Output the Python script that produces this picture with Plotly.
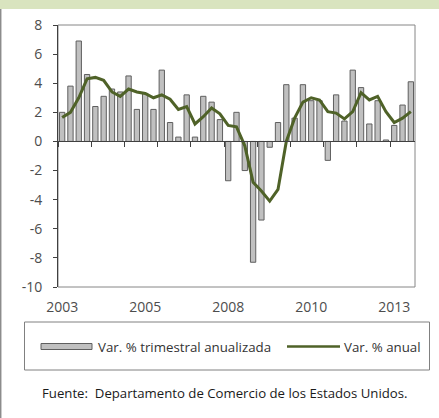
import plotly.graph_objects as go

trimestres = [
    "2003-T1", "2003-T2", "2003-T3", "2003-T4",
    "2004-T1", "2004-T2", "2004-T3", "2004-T4",
    "2005-T1", "2005-T2", "2005-T3", "2005-T4",
    "2006-T1", "2006-T2", "2006-T3", "2006-T4",
    "2007-T1", "2007-T2", "2007-T3", "2007-T4",
    "2008-T1", "2008-T2", "2008-T3", "2008-T4",
    "2009-T1", "2009-T2", "2009-T3", "2009-T4",
    "2010-T1", "2010-T2", "2010-T3", "2010-T4",
    "2011-T1", "2011-T2", "2011-T3", "2011-T4",
    "2012-T1", "2012-T2", "2012-T3", "2012-T4",
    "2013-T1", "2013-T2", "2013-T3",
]

var_trimestral = [2.0, 3.8, 6.9, 4.6, 2.4, 3.1, 3.6, 3.4, 4.5, 2.2, 3.3, 2.2,
                  4.9, 1.3, 0.3, 3.2, 0.3, 3.1, 2.7, 1.5, -2.7, 2.0, -2.0, -8.3,
                  -5.4, -0.4, 1.3, 3.9, 1.6, 3.9, 2.8, 2.8, -1.3, 3.2, 1.4, 4.9,
                  3.7, 1.2, 2.8, 0.1, 1.1, 2.5, 4.1]

var_anual = [1.65, 2.0, 3.0, 4.3, 4.4, 4.2, 3.4, 3.1, 3.6, 3.4, 3.3, 3.0,
             3.2, 2.9, 2.2, 2.4, 1.2, 1.7, 2.3, 1.9, 1.1, 1.0, -0.3, -2.8,
             -3.4, -4.1, -3.3, 0.0, 1.6, 2.7, 3.0, 2.85, 2.05, 1.95, 1.55, 2.05,
             3.35, 2.85, 3.1, 2.05, 1.3, 1.6, 2.05]

year_tick_cats = ["2003-T1", "2005-T3", "2008-T1", "2010-T3", "2013-T1"]
year_tick_text = ["2003", "2005", "2008", "2010", "2013"]

y_tick_vals = [-10, -8, -6, -4, -2, 0, 2, 4, 6, 8]
y_tick_text = ["-10", "-8", "-6", "-4", "-2", "0", "2", "4", "6", "8"]

serie_barras = "Var. % trimestral anualizada"
serie_linea = "Var. % anual"
fuente = "Fuente:  Departamento de Comercio de los Estados Unidos."

FONT = "Open Sans"
TXT = "#4d4d4d"
BAR_FILL = "#c0c0c0"
BAR_LINE = "#5f5f5f"
LINE_COLOR = "#4F6228"

# plot area geometry (px)
W, H = 439, 418
ML, MR, MT, MB = 58, 24, 25, 131
PW, PH = W - ML - MR, H - MT - MB


def px_x(px):
    return (px - ML) / PW


def px_y(py):
    return (H - MB - py) / PH


fig = go.Figure()
fig.add_trace(go.Bar(
    x=trimestres, y=var_trimestral, name=serie_barras,
    marker=dict(color=BAR_FILL, line=dict(color=BAR_LINE, width=1)),
    xaxis="x", yaxis="y",
))
fig.add_trace(go.Scatter(
    x=trimestres, y=var_anual, name=serie_linea, mode="lines",
    line=dict(color=LINE_COLOR, width=3),
    xaxis="x2", yaxis="y",
))

n = len(trimestres)
fig.update_layout(
    width=W, height=H,
    margin=dict(l=ML, r=MR, t=MT, b=MB, autoexpand=False),
    paper_bgcolor="white", plot_bgcolor="white",
    bargap=0.36,
    showlegend=False,
    font=dict(family=FONT, size=13, color=TXT),
    xaxis=dict(
        type="category", categoryarray=trimestres, range=[-0.5, n - 0.5],
        showline=False, showgrid=False, zeroline=False, ticks="",
        tickmode="array", tickvals=year_tick_cats, ticktext=year_tick_text,
        tickangle=0, tickfont=dict(size=14, color=TXT, family=FONT),
        ticklabelstandoff=10,
    ),
    xaxis2=dict(
        type="category", categoryarray=trimestres, range=[-0.5, n - 0.5],
        overlaying="x", anchor="free", position=10 / 18,
        showline=True, linecolor="#404040", linewidth=1,
        ticks="outside", ticklen=5, tickcolor="#404040", tickwidth=1,
        tickson="boundaries", dtick=4, tick0=0,
        showticklabels=False, showgrid=False, zeroline=False,
    ),
    yaxis=dict(
        range=[-10, 8], tickmode="array", tickvals=y_tick_vals, ticktext=y_tick_text,
        showline=True, linecolor="#404040", linewidth=1,
        ticks="outside", ticklen=4, tickcolor="#404040",
        showgrid=False, zeroline=False,
        tickfont=dict(size=14, color=TXT, family=FONT),
        ticklabelstandoff=8,
    ),
    shapes=[
        # plot frame
        dict(type="rect", xref="paper", yref="paper", x0=0, x1=1, y0=0, y1=1,
             line=dict(color="#868686", width=1), layer="below"),
        # top green band
        dict(type="rect", xref="paper", yref="paper", x0=px_x(-5), x1=px_x(445),
             y0=px_y(9), y1=px_y(-5), line=dict(width=0), fillcolor="#d9e4bf"),
        # left border line
        dict(type="line", xref="paper", yref="paper", x0=px_x(0.7), x1=px_x(0.7),
             y0=px_y(425), y1=px_y(9), line=dict(color="#8c8c8c", width=1.5)),
        # legend box
        dict(type="rect", xref="paper", yref="paper", x0=px_x(24.5), x1=px_x(429.5),
             y0=px_y(370), y1=px_y(322), line=dict(color="#808080", width=1),
             fillcolor="white"),
        # legend swatch: bars
        dict(type="rect", xref="paper", yref="paper", x0=px_x(41), x1=px_x(92),
             y0=px_y(349.5), y1=px_y(343.5), line=dict(color=BAR_LINE, width=1),
             fillcolor=BAR_FILL),
        # legend swatch: line
        dict(type="line", xref="paper", yref="paper", x0=px_x(287), x1=px_x(340),
             y0=px_y(346.5), y1=px_y(346.5), line=dict(color=LINE_COLOR, width=2.5)),
    ],
    annotations=[
        dict(text=serie_barras, xref="paper", yref="paper", x=px_x(96), y=px_y(346.5),
             xanchor="left", yanchor="middle", showarrow=False,
             font=dict(size=13.3, color="#333333", family=FONT)),
        dict(text=serie_linea, xref="paper", yref="paper", x=px_x(342), y=px_y(346.5),
             xanchor="left", yanchor="middle", showarrow=False,
             font=dict(size=13.3, color="#333333", family=FONT)),
        dict(text=fuente, xref="paper", yref="paper", x=px_x(40), y=px_y(393),
             xanchor="left", yanchor="middle", showarrow=False,
             font=dict(size=13.2, color="#1a1a1a", family=FONT)),
    ],
)

fig.write_html(
    "out.html",
    config={"displayModeBar": False},
    post_script="document.body.style.margin='0';document.body.style.overflow='hidden';",
)
